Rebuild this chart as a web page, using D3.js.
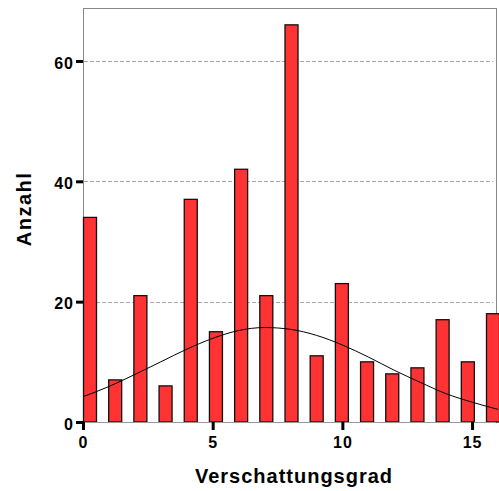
<!DOCTYPE html>
<html>
<head>
<meta charset="utf-8">
<script src="https://cdn.jsdelivr.net/npm/d3@7"></script>
<style>
body { margin: 0; background: #fff; }
text { font-family: "Liberation Sans", Arial, sans-serif; font-weight: bold; fill: #000; }
</style>
</head>
<body>
<script>
// Häufigkeiten je Verschattungsgrad (0..16)
const grade = [0, 1, 2, 3, 4, 5, 6, 7, 8, 9, 10, 11, 12, 13, 14, 15, 16];
const anzahl = [34, 7, 21, 6, 37, 15, 42, 21, 66, 11, 23, 10, 8, 9, 17, 10, 18];
const kurve = [4.2, 5.9, 7.9, 10.0, 12.1, 13.9, 15.2, 15.7, 15.4, 14.4, 12.8, 10.8, 8.6, 6.6, 4.7, 3.3, 2.1];
const yTicks = [0, 20, 40, 60];
const xTicks = [0, 5, 10, 15];

const width = 499, height = 491;
const mLeft = 83, mTop = 8, mRight = 496, mBottom = 422;

const svg = d3.select("body").append("svg")
    .attr("width", width)
    .attr("height", height);

const x = d3.scaleLinear().domain([0, 16]).range([mLeft, 498]);
// bars are laid out on their own slots, like the original output
const xBar = d3.scaleLinear().domain([0, 16]).range([90, 493]);
const y = d3.scaleLinear().domain([0, 68.8]).range([mBottom, mTop]);
const barW = 13;

// frame
svg.append("rect")
    .attr("x", mLeft + 0.5).attr("y", mTop + 0.5)
    .attr("width", mRight - mLeft).attr("height", mBottom - mTop)
    .attr("fill", "none").attr("stroke", "#888").attr("stroke-width", 1);

// gridlines
svg.append("g").selectAll("line")
    .data(yTicks.filter(d => d > 0))
    .enter().append("line")
    .attr("x1", mLeft + 1).attr("x2", 493)
    .attr("y1", d => Math.round(y(d)) + 0.5).attr("y2", d => Math.round(y(d)) + 0.5)
    .attr("stroke", "#aaa").attr("stroke-dasharray", "4,2");

// bars
svg.append("g").selectAll("rect")
    .data(grade)
    .enter().append("rect")
    .attr("x", d => xBar(d) - barW / 2)
    .attr("y", (d, i) => y(anzahl[i]))
    .attr("width", barW)
    .attr("height", (d, i) => y(0) - y(anzahl[i]))
    .attr("fill", "#ff3333")
    .attr("stroke", "#111")
    .attr("stroke-width", 1.3);

// normal curve
const line = d3.line()
    .x((d, i) => x(grade[i]))
    .y(d => y(d))
    .curve(d3.curveMonotoneX);
svg.append("path")
    .datum(kurve)
    .attr("d", line)
    .attr("fill", "none")
    .attr("stroke", "#000")
    .attr("stroke-width", 1);

// baseline
svg.append("line")
    .attr("x1", mLeft).attr("x2", mRight)
    .attr("y1", mBottom + 0.5).attr("y2", mBottom + 0.5)
    .attr("stroke", "#999");

// y axis
const yAxis = svg.append("g")
    .attr("transform", `translate(${mLeft},0)`)
    .call(d3.axisLeft(y).tickValues(yTicks).tickSize(7).tickPadding(2).tickFormat(d3.format("d")));
yAxis.select(".domain").remove();
yAxis.selectAll(".tick line").attr("stroke", "#000").attr("stroke-width", 3);
yAxis.selectAll(".tick text")
    .style("font-size", "16px")
    .style("font-family", "'Liberation Sans', Arial, sans-serif")
    .style("font-weight", "bold")
    .style("letter-spacing", "1px")
    .attr("dy", "0.45em");

// x axis
const xAxis = svg.append("g")
    .attr("transform", `translate(0,${mBottom})`)
    .call(d3.axisBottom(x).tickValues(xTicks).tickSize(8).tickPadding(7).tickFormat(d3.format("d")));
xAxis.select(".domain").remove();
xAxis.selectAll(".tick line").attr("stroke", "#000").attr("stroke-width", 3);
xAxis.selectAll(".tick text")
    .style("font-size", "16px")
    .style("font-family", "'Liberation Sans', Arial, sans-serif")
    .style("font-weight", "bold")
    .style("letter-spacing", "1px");

// axis titles
svg.append("text")
    .attr("x", 294).attr("y", 483)
    .attr("text-anchor", "middle")
    .style("font-size", "20px")
    .style("letter-spacing", "1px")
    .text("Verschattungsgrad");

svg.append("text")
    .attr("transform", "translate(31,209) rotate(-90)")
    .attr("text-anchor", "middle")
    .style("font-size", "20px")
    .style("letter-spacing", "1.5px")
    .text("Anzahl");
</script>
</body>
</html>
